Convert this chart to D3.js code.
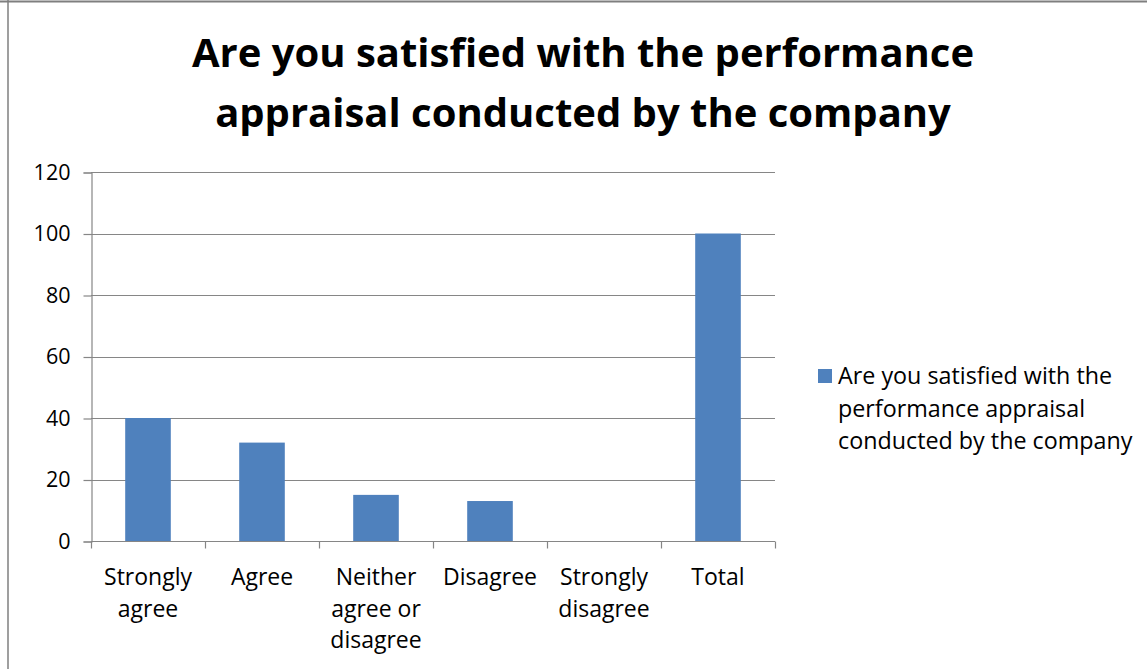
<!DOCTYPE html>
<html>
<head>
<meta charset="utf-8">
<script src="https://cdn.jsdelivr.net/npm/d3@7"></script>
<style>
  html, body { margin: 0; padding: 0; background: #fff; }
  svg { display: block; font-family: "Open Sans", "Noto Sans", sans-serif; }
</style>
</head>
<body>
<svg id="chart" width="1147" height="669"></svg>
<script>
const categories = [
  ["Strongly", "agree"],
  ["Agree"],
  ["Neither", "agree or", "disagree"],
  ["Disagree"],
  ["Strongly", "disagree"],
  ["Total"]
];
const values = [40, 32, 15, 13, 0, 100];
const yTicks = [0, 20, 40, 60, 80, 100, 120];
const titleLines = ["Are you satisfied with the performance", "appraisal conducted by the company"];
const legendLines = ["Are you satisfied with the", "performance appraisal", "conducted by the company"];

const svg = d3.select("#chart");
const W = 1147, H = 669;
const plot = { left: 91, right: 775, top: 172, bottom: 541 };
const barColor = "#4f81bd";
const gridColor = "#868686";

// outer frame
svg.append("line").attr("x1", 0).attr("x2", W).attr("y1", 1.5).attr("y2", 1.5)
  .attr("stroke", "#7f7f7f").attr("stroke-width", 2);
svg.append("line").attr("x1", 8).attr("x2", 8).attr("y1", 0).attr("y2", H)
  .attr("stroke", "#7f7f7f").attr("stroke-width", 1.5);

// title
svg.append("text")
  .attr("x", 583).attr("y", 67)
  .attr("text-anchor", "middle")
  .attr("font-size", 40).attr("font-weight", "bold").attr("fill", "#000")
  .selectAll("tspan").data(titleLines).join("tspan")
  .attr("x", 583).attr("dy", (d, i) => i === 0 ? 0 : 60)
  .text(d => d);

const idx = categories.map((d, i) => i);
const x = d3.scaleBand().domain(idx).range([plot.left, plot.right]).paddingInner(0).paddingOuter(0);
const y = d3.scaleLinear().domain([0, 120]).range([plot.bottom, plot.top]);

// horizontal gridlines
svg.append("g").selectAll("line").data(yTicks).join("line")
  .attr("x1", plot.left).attr("x2", plot.right)
  .attr("y1", d => Math.round(y(d)) + 0.5).attr("y2", d => Math.round(y(d)) + 0.5)
  .attr("stroke", gridColor).attr("stroke-width", 1.2);

// y axis
const yAxis = svg.append("g")
  .attr("transform", `translate(${plot.left + 0.5},0.5)`)
  .call(d3.axisLeft(y).tickValues(yTicks).tickSize(8).tickPadding(6));
yAxis.select(".domain").attr("stroke", gridColor).attr("stroke-width", 1.2);
yAxis.selectAll(".tick line").attr("stroke", gridColor).attr("stroke-width", 1.2);
yAxis.selectAll(".tick text").attr("font-size", 21.5).attr("fill", "#000")
  .attr("font-family", "Open Sans, Noto Sans, sans-serif").attr("dx", -7);

// bars
const barW = x.bandwidth() * 0.4;
svg.append("g").selectAll("rect").data(values).join("rect")
  .attr("x", (d, i) => x(i) + (x.bandwidth() - barW) / 2)
  .attr("width", barW)
  .attr("y", d => y(d))
  .attr("height", d => y(0) - y(d))
  .attr("fill", barColor);

// x axis with category ticks at band boundaries
const xAxisG = svg.append("g").attr("transform", `translate(0,${Math.round(y(0)) + 0.5})`);
xAxisG.append("line").attr("x1", plot.left).attr("x2", plot.right)
  .attr("stroke", gridColor).attr("stroke-width", 1.2);
const bounds = idx.map(i => x(i)).concat([plot.right]);
xAxisG.selectAll("line.tk").data(bounds).join("line").attr("class", "tk")
  .attr("x1", d => Math.round(d) + 0.5).attr("x2", d => Math.round(d) + 0.5)
  .attr("y1", 0).attr("y2", 7).attr("stroke", gridColor).attr("stroke-width", 1.2);

// category labels
const labels = svg.append("g").selectAll("text").data(categories).join("text")
  .attr("text-anchor", "middle").attr("font-size", 23).attr("fill", "#000")
  .attr("transform", (d, i) => `translate(${x(i) + x.bandwidth() / 2},585)`);
labels.selectAll("tspan").data(d => d).join("tspan")
  .attr("x", 0).attr("dy", (d, i) => i === 0 ? 0 : 31.5)
  .text(d => d);

// legend
const lg = svg.append("g").attr("transform", "translate(818,369)");
lg.append("rect").attr("width", 14).attr("height", 14).attr("fill", barColor);
lg.append("text").attr("font-size", 23.3).attr("fill", "#000")
  .selectAll("tspan").data(legendLines).join("tspan")
  .attr("x", 20).attr("y", (d, i) => 15 + i * 32.5)
  .text(d => d);
</script>
</body>
</html>
